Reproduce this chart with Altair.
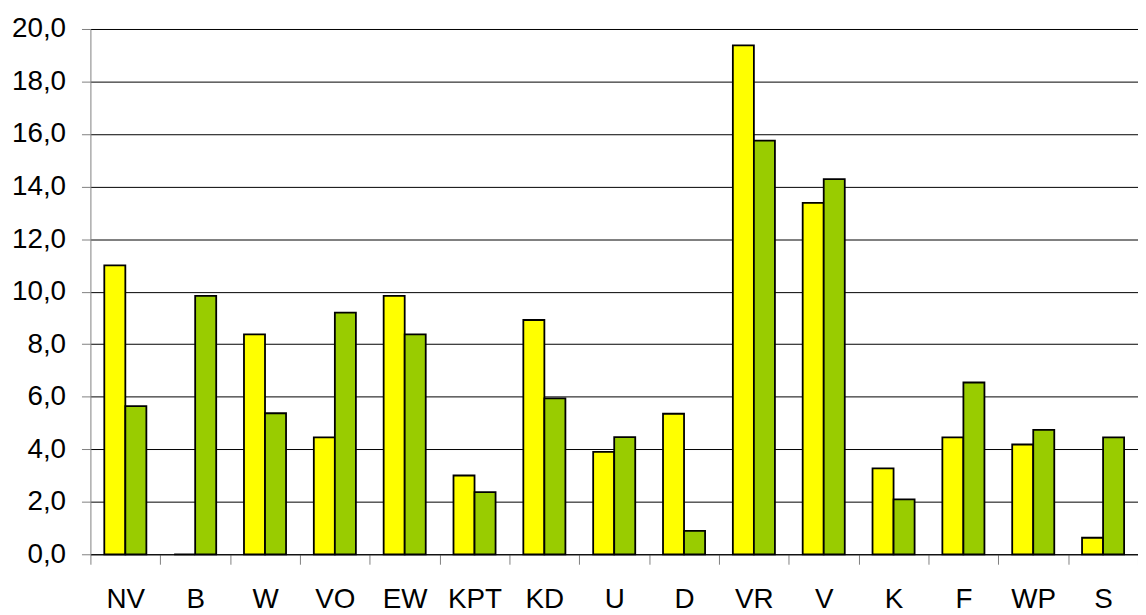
import altair as alt
import pandas as pd

categories = ["NV", "B", "W", "VO", "EW", "KPT", "KD", "U", "D", "VR", "V", "K", "F", "WP", "S"]
series_names = ["Reeks 1", "Reeks 2"]
yellow_values = [11.0, 0.0, 8.37, 4.45, 9.84, 3.0, 8.92, 3.9, 5.35, 19.38, 13.38, 3.27, 4.45, 4.18, 0.63]
green_values = [5.64, 9.84, 5.37, 9.2, 8.37, 2.37, 5.94, 4.46, 0.89, 15.75, 14.28, 2.09, 6.54, 4.74, 4.45]
y_ticks = [0, 2, 4, 6, 8, 10, 12, 14, 16, 18, 20]

rows = []
for c, yv, gv in zip(categories, yellow_values, green_values):
    rows.append({"category": c, "series": series_names[0], "value": yv})
    rows.append({"category": c, "series": series_names[1], "value": gv})
df = pd.DataFrame(rows)

font = "Liberation Sans"

chart = alt.Chart(df).mark_bar(stroke="black", strokeWidth=1.8).encode(
    x=alt.X(
        "category:N",
        sort=categories,
        scale=alt.Scale(paddingInner=0, paddingOuter=0),
        axis=alt.Axis(
            title=None, labelAngle=0, tickBand="extent", tickSize=10, labelPadding=22,
            labelFontSize=28, labelFont=font, labelColor="black",
            domainColor="black", domainWidth=1, tickColor="#808080", tickWidth=1,
            grid=False, labelOverlap=False,
        ),
    ),
    xOffset=alt.XOffset("series:N", sort=series_names,
                        scale=alt.Scale(paddingInner=0, paddingOuter=0.66)),
    y=alt.Y(
        "value:Q",
        scale=alt.Scale(domain=[0, 20], nice=False),
        axis=alt.Axis(
            title=None, values=y_ticks,
            labelExpr="replace(format(datum.value, '.1f'), '.', ',')",
            tickSize=9, labelPadding=16, labelFontSize=28, labelFont=font,
            labelColor="black", domainColor="#808080", domainWidth=1,
            tickColor="#808080", tickWidth=1,
            grid=True, gridColor="black", gridWidth=1, gridOpacity=1,
            labelOverlap=False,
        ),
    ),
    color=alt.Color("series:N",
                    scale=alt.Scale(domain=series_names, range=["#FFFF00", "#99CC00"]),
                    legend=None),
).properties(
    width=1055,
    height=529,
    padding={"left": 83, "top": 19, "right": 0, "bottom": 58},
    autosize=alt.AutoSizeParams(type="none"),
).configure_view(stroke=None)

chart.save("out.html", embed_options={"renderer": "svg", "actions": False})
